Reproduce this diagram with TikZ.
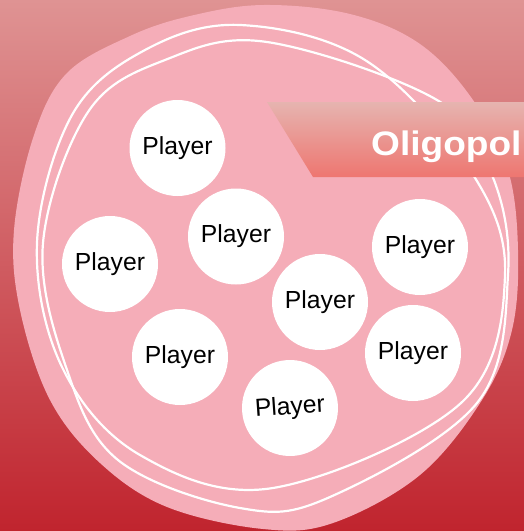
\documentclass[tikz,border=0pt]{standalone}
\usepackage{fontspec}
\setmainfont{Liberation Sans}
\definecolor{bgtop}{HTML}{DF9393}
\definecolor{bgmid}{HTML}{D2646B}
\definecolor{bgbot}{HTML}{C0242E}
\definecolor{blobpink}{HTML}{F5ADB8}
\definecolor{bantop}{HTML}{E6B4B0}
\definecolor{banbot}{HTML}{EE7670}
\tikzset{
  player/.style={circle, fill=white, minimum size=96pt, inner sep=0pt,
    font=\fontsize{24.7}{30}\selectfont, text=black},
  ring/.style={draw=white, line width=2.2pt},
}
\begin{document}
\begin{tikzpicture}[x=1pt,y=-1pt]
\useasboundingbox (0,0) rectangle (524,531);
\clip (0,0) rectangle (524,531);
% background
\shade[top color=bgtop, middle color=bgmid, bottom color=bgbot] (0,0) rectangle (524,531);
% blob
\fill[blobpink] plot[smooth cycle, tension=0.6] coordinates {
  (263,5) (350,14) (420,44) (473,100) (508,170) (518,250) (512,330)
  (482,400) (420,475) (333,523) (263,529) (167,507) (100,463) (50,400)
  (20,310) (14,230) (34,135) (67,73) (130,36) (190,16)};
% hand-drawn rings
\draw[ring] plot[smooth cycle, tension=0.6] coordinates {
  (240,25) (365,60) (470,170) (505,275) (461,403) (273,488)
  (140,455) (62,367) (37,243) (72,115) (145,50)};
\draw[ring] plot[smooth cycle, tension=0.6] coordinates {
  (267,42) (437,100) (492,175) (508,275) (477,403) (330,497)
  (240,508) (118,460) (66,367) (43,243) (88,112) (165,60)};
% banner
\shade[top color=bantop, bottom color=banbot] (267,102) -- (530,102) -- (530,177) -- (313,177) -- cycle;
\node[anchor=base west, inner sep=0pt, xscale=1.09, text=white,
  font=\bfseries\fontsize{34}{40}\selectfont] (title) at (371,155.5) {Oligopol};
% players
\node[player] (p1) at (177.5,148) {Player};
\node[player] (p2) at (236,236.5) {Player};
\node[player] (p3) at (110,264) {Player};
\node[player] (p4) at (180,357) {Player};
\node[player] (p5) at (320,302) {Player};
\node[player] (p6) at (420,247) {Player};
\node[player] (p7) at (413,353) {Player};
\node[player, rotate=4] (p8) at (290,408) {Player};
\end{tikzpicture}
\end{document}
